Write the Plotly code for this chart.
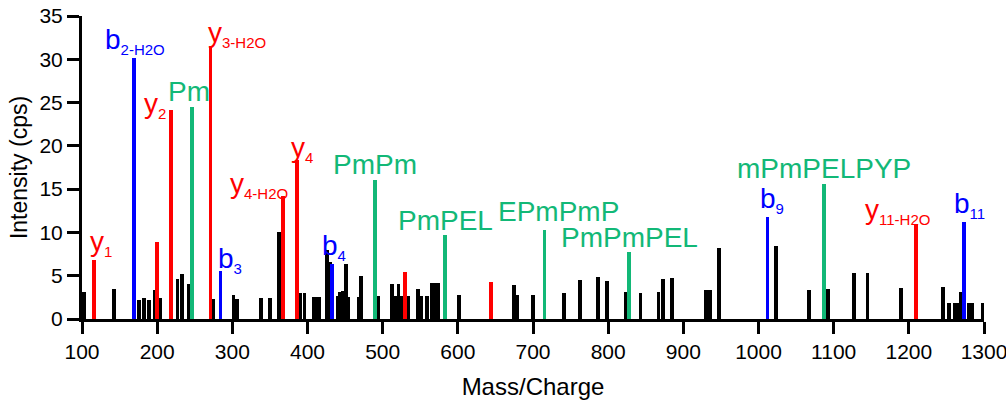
import plotly.graph_objects as go

# Fragment-ion peaks (m/z, intensity in cps)
other_mz = [103, 142, 176, 182, 189, 197, 204, 227, 233, 242, 274.5, 301.5, 306,
            338, 350, 362, 390, 396, 408, 412, 416, 426, 430, 440, 443, 447, 451,
            454, 469, 471, 494, 513, 516.5, 521, 526, 534, 547, 551, 559, 566, 570,
            574, 601, 675, 679, 700, 741, 763, 786, 799, 823, 843, 867, 873, 885,
            930, 936, 948, 1023, 1067, 1092, 1127, 1145, 1190, 1245, 1254, 1262,
            1265, 1269.5, 1280, 1284, 1298]
other_int = [3.1, 3.5, 2.2, 2.4, 2.2, 3.35, 2.4, 4.6, 5.2, 4.0, 2.35, 2.8, 2.3,
             2.4, 2.4, 10.0, 3.0, 3.0, 2.5, 2.5, 2.5, 8.0, 6.6, 2.6, 3.1, 3.2, 6.4,
             2.5, 2.5, 5.0, 2.65, 4.05, 2.65, 4.05, 2.65, 2.65, 3.45, 2.65, 2.65,
             4.15, 4.15, 4.15, 2.8, 3.9, 2.8, 2.8, 3.0, 4.5, 4.85, 4.4, 3.1, 3.05,
             3.1, 4.6, 4.75, 3.3, 3.3, 8.15, 8.4, 3.35, 3.5, 5.3, 5.3, 3.6, 3.7,
             1.85, 1.85, 1.85, 3.1, 1.85, 1.85, 1.85]

y_mz = [116, 199.5, 218, 271, 367, 386, 530, 644.5, 1209]
y_int = [6.8, 8.9, 24.1, 31.4, 14.2, 18.35, 5.4, 4.3, 10.95]

b_mz = [169.6, 284.2, 432.7, 1012, 1273]
b_int = [30.1, 5.55, 6.3, 11.75, 11.2]

int_mz = [246, 490, 583.5, 715.3, 828, 1087.5]
int_int = [24.5, 16.0, 9.7, 10.25, 7.75, 15.65]

# Peak labels: (index into series, main text, subscript)
y_labels = [(0, "y", "1"), (2, "y", "2"), (3, "y", "3-H2O"), (4, "y", "4-H2O"),
            (5, "y", "4"), (8, "y", "11-H2O")]
b_labels = [(0, "b", "2-H2O"), (1, "b", "3"), (2, "b", "4"), (3, "b", "9"), (4, "b", "11")]
int_labels = [(0, "Pm", ""), (1, "PmPm", ""), (2, "PmPEL", ""), (3, "EPmPmP", ""),
              (4, "PmPmPEL", ""), (5, "mPmPELPYP", "")]

RED = "#FF0000"
BLUE = "#0000FF"
GREEN = "#12B877"
FONT = "Arial, Liberation Sans, sans-serif"
BAR_W = 5.2

fig = go.Figure()
for xs, ys, col in [(other_mz, other_int, "black"), (y_mz, y_int, RED),
                    (b_mz, b_int, BLUE), (int_mz, int_int, GREEN)]:
    fig.add_trace(go.Bar(x=xs, y=ys, width=BAR_W, marker=dict(color=col, line=dict(width=0)),
                         showlegend=False, hoverinfo="x+y"))

# label offsets in pixels (x, y) relative to the top of each peak
y_off = {0: (7, -2), 2: (-16, -14), 3: (26, -6), 4: (-24, -8), 5: (5, -8), 8: (-18, -6)}
b_off = {0: (1, -2), 1: (10, -8), 2: (2, -2), 3: (4, -2), 4: (6, -2)}
int_off = {0: (-3, -2), 1: (0, -2), 2: (0, -3), 3: (14, 1), 4: (0, -3), 5: (0, -2)}


def label_text(main, sub):
    if sub:
        return f"{main}<sub><span style='font-size:15px'>{sub}</span></sub>"
    return main


for group, xs, ys, col, offs in [(y_labels, y_mz, y_int, RED, y_off),
                                 (b_labels, b_mz, b_int, BLUE, b_off),
                                 (int_labels, int_mz, int_int, GREEN, int_off)]:
    for idx, main, sub in group:
        dx, dy = offs[idx]
        fig.add_annotation(x=xs[idx], y=ys[idx], text=label_text(main, sub),
                           showarrow=False, xanchor="center", yanchor="bottom",
                           xshift=dx, yshift=dy,
                           font=dict(family=FONT, size=28, color=col))

axis_common = dict(showline=True, linewidth=3, linecolor="black", ticks="outside",
                   ticklen=12, tickwidth=3, tickcolor="black", showgrid=False,
                   zeroline=False, automargin=False, ticklabeloverflow="allow",
                   tickfont=dict(family=FONT, size=21, color="black"))

fig.update_layout(
    width=1006, height=403,
    margin=dict(l=82, r=22, t=16, b=84),
    paper_bgcolor="white", plot_bgcolor="white",
    barmode="overlay", bargap=0,
    xaxis=dict(range=[100, 1300], tickvals=list(range(100, 1301, 100)),
               title=dict(text="Mass/Charge", font=dict(family=FONT, size=24, color="black"),
                          standoff=16),
               **axis_common),
    yaxis=dict(range=[0, 35], tickvals=list(range(0, 36, 5)),
               title=dict(text="Intensity (cps)", font=dict(family=FONT, size=23, color="black"),
                          standoff=6),
               **axis_common),
)

fig.write_html("out.html")
